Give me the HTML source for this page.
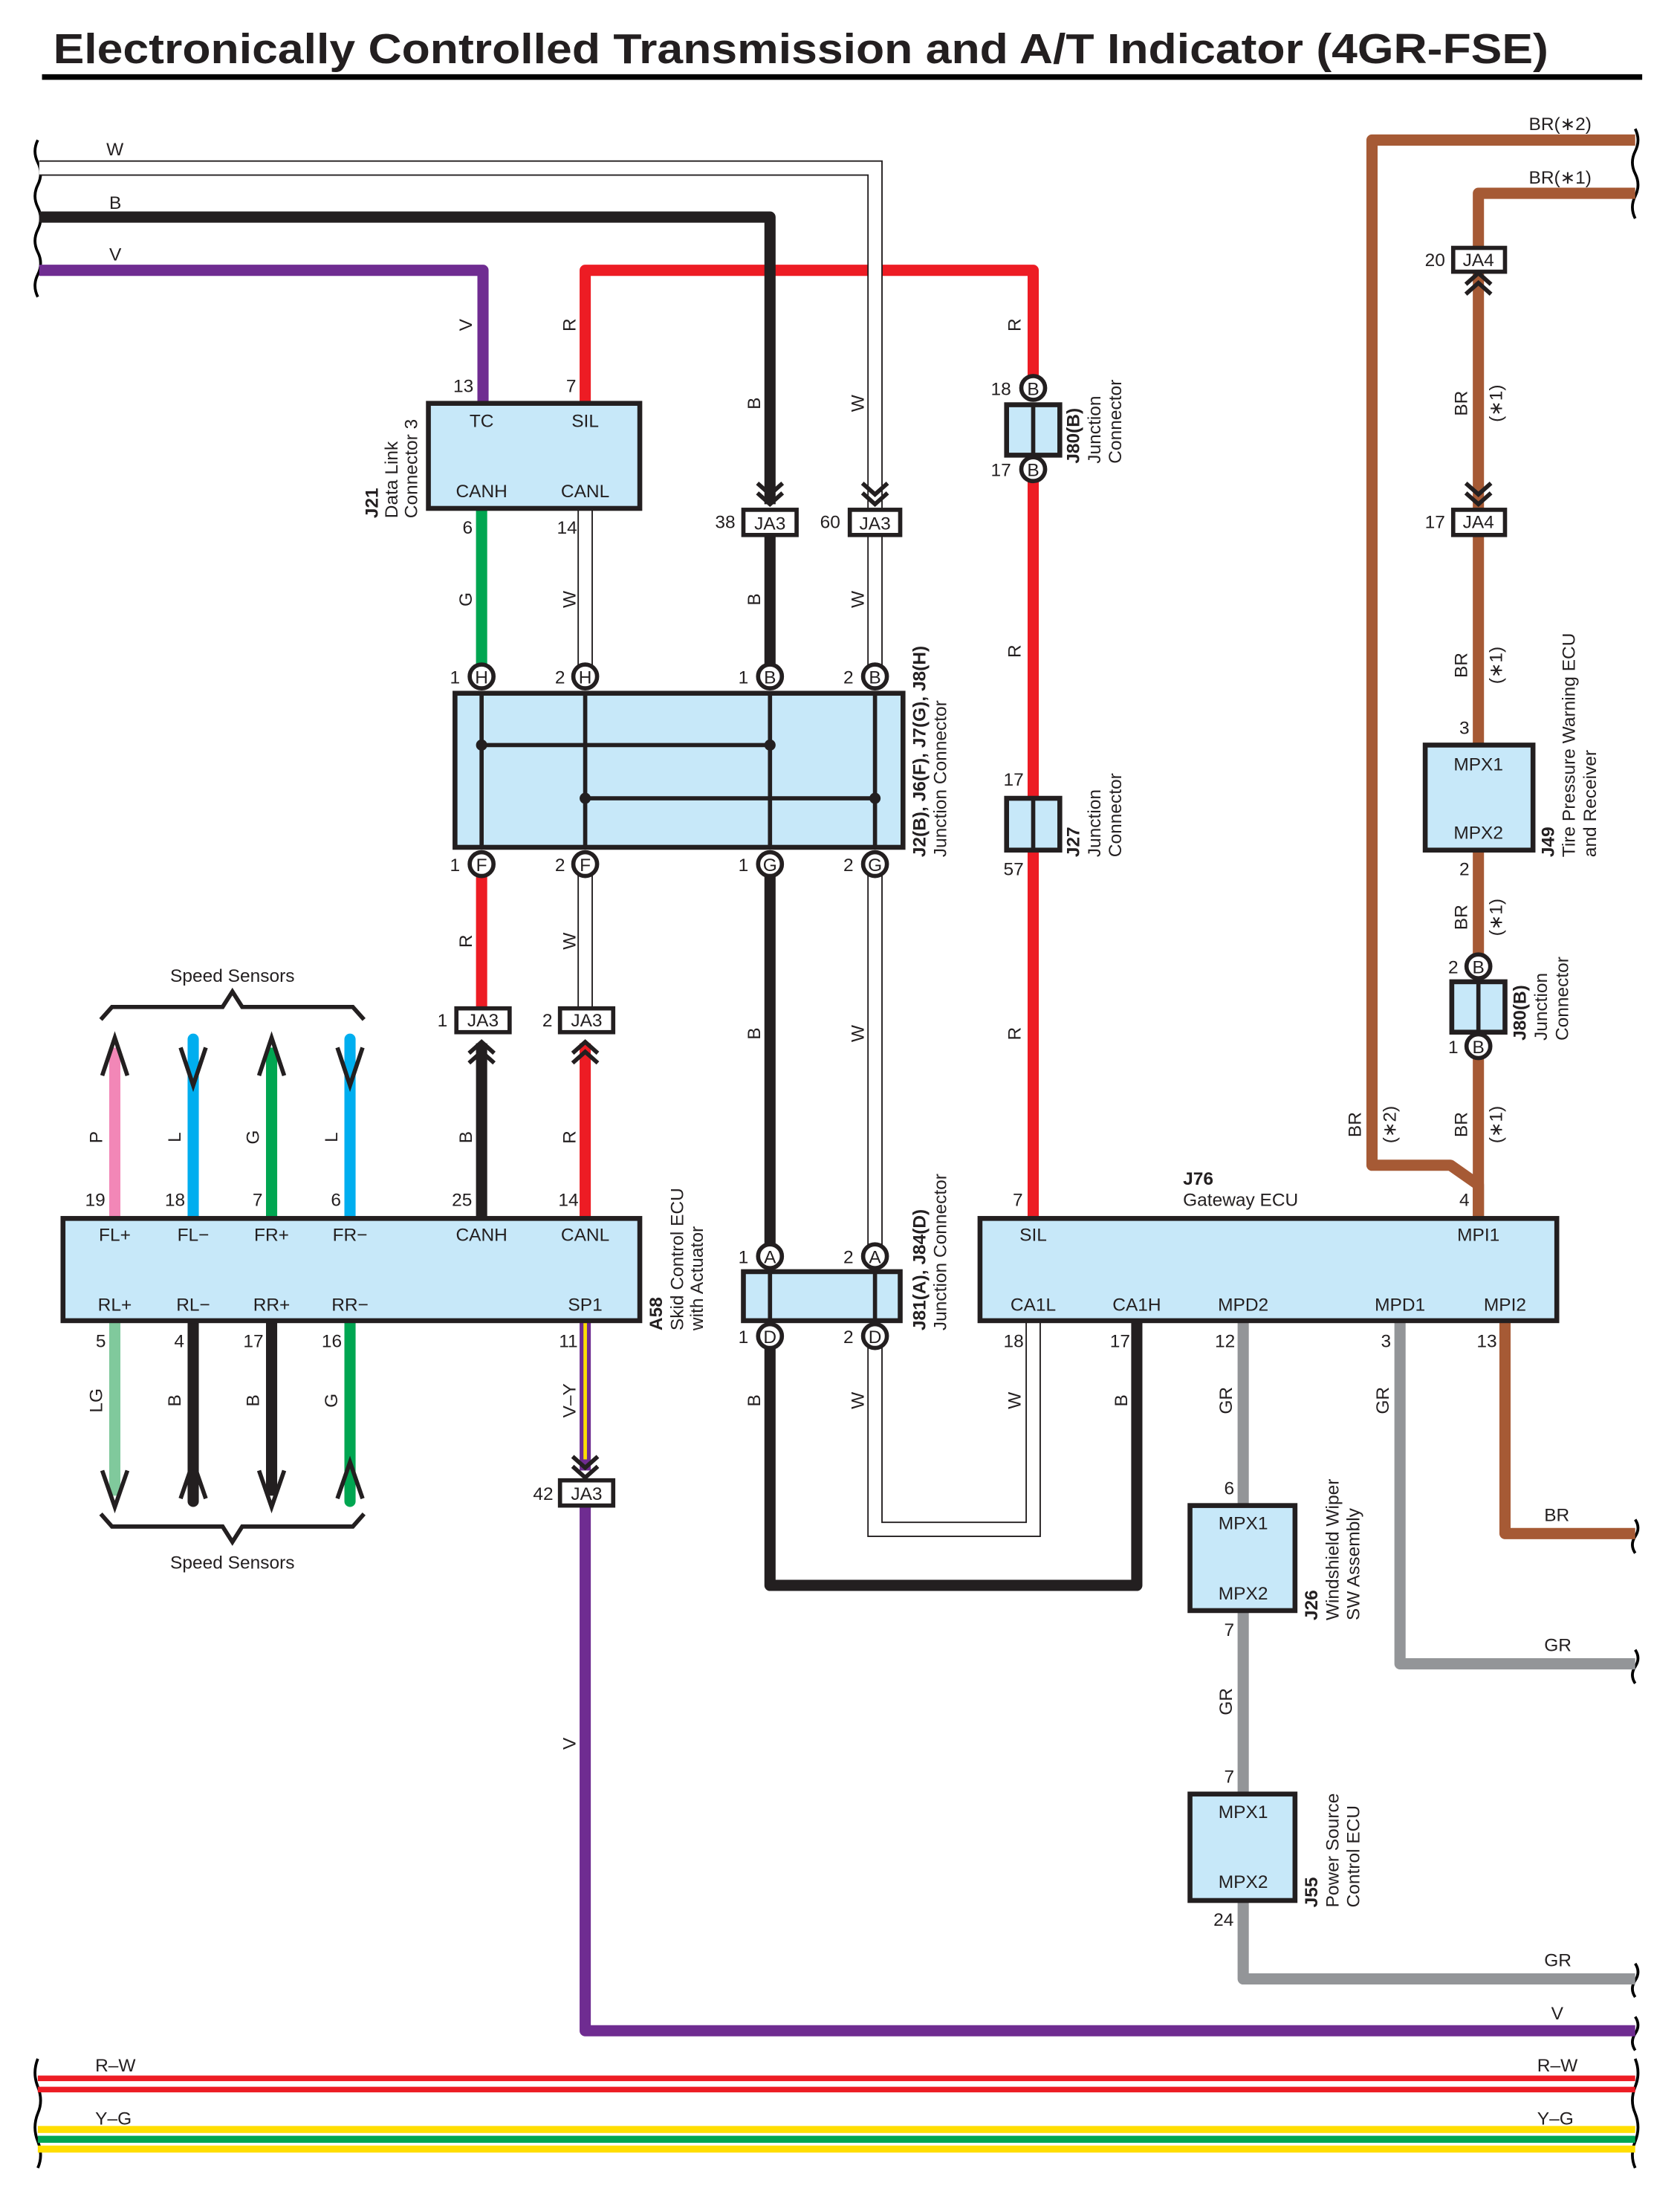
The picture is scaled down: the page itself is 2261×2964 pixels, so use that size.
<!DOCTYPE html>
<html><head><meta charset="utf-8"><style>
html,body{margin:0;padding:0;background:#fff}
svg{display:block}
text{font-family:"Liberation Sans",sans-serif;font-size:13px;fill:#231f20}
.c{text-anchor:middle}
.b{font-weight:bold}
</style></head><body>
<svg width="2261" height="2964" viewBox="0 0 1200 1573" preserveAspectRatio="none" xmlns="http://www.w3.org/2000/svg">
<rect width="1200" height="1573" fill="#fff"/>
<text x="38" y="45" class="b" style="font-size:30px" textLength="1068" lengthAdjust="spacingAndGlyphs">Electronically Controlled Transmission and A/T Indicator (4GR-FSE)</text>
<rect x="30" y="53" width="1143" height="4" fill="#000"/>

<!-- wavy breaks -->
<g fill="none" stroke="#000" stroke-width="2">
<path d="M27 100 q-4 8 0 16 q4 8 0 16 q-4 8 0 16 q4 8 0 16 q-4 8 0 16 q4 8 0 16 q-4 8 0 16"/>
<path d="M27 1470 q-4 10 0 20 q4 10 0 19 M27 1509 q-4 10 0 20 q4 10 0 19"/>
<path d="M1168 92 q4 8 0 16 q-4 8 0 16 q4 8 0 16 q-4 8 0 16"/>
<path d="M1168 1085 q4 6 0 12 q-4 6 0 12"/>
<path d="M1168 1178 q4 6 0 12 q-4 6 0 12"/>
<path d="M1168 1402 q4 6 0 12 q-4 6 0 12"/>
<path d="M1168 1440 q4 6 0 12 q-4 6 0 12"/>
<path d="M1168 1470 q4 10 0 20 q-4 10 0 19 M1168 1509 q4 10 0 20 q-4 10 0 19"/>
</g>

<!-- red first so others cross over -->
<g fill="none" stroke-width="8" stroke-linejoin="round">
<path d="M418 288 V193 H738 V277" stroke="#ed1c24"/>
</g>
<!-- white wires -->
<g fill="none" stroke-linejoin="miter">
<path d="M28 120 H625 V483 M625 617 V897 M625 954 V1092 H738 V943 M418 363 V483 M418 617 V720" stroke="#231f20" stroke-width="11"/>
<path d="M28 120 H625 V483 M625 617 V897 M625 954 V1092 H738 V943 M418 363 V483 M418 617 V720" stroke="#fff" stroke-width="9"/>
</g>
<!-- colored wires -->
<g fill="none" stroke-width="8" stroke-linejoin="round">
<path d="M28 155 H550 V360" stroke="#231f20"/>
<path d="M28 193 H345 V288" stroke="#6f2c91"/>
<path d="M738 335 V870" stroke="#ed1c24"/>
<path d="M344 363 V483" stroke="#00a651"/>
<path d="M550 382 V483" stroke="#231f20"/>
<path d="M550 617 V897" stroke="#231f20"/>
<path d="M550 954 V1132 H812 V943" stroke="#231f20"/>
<path d="M344 617 V720" stroke="#ed1c24"/>
<path d="M344 745 V870" stroke="#231f20"/>
<path d="M418 745 V870" stroke="#ed1c24"/>
<path d="M418 943 V1050" stroke="#6f2c91"/>
<path d="M418 1075 V1450 H1168" stroke="#6f2c91"/>
<path d="M888 943 V1075 M888 1150 V1280 M888 1357 V1413 H1168 M1000 943 V1188 H1168" stroke="#939598"/>
<path d="M1075 943 V1095 H1168" stroke="#a65a35"/>
<path d="M1168 100 H980 V832 H1036 L1056 846 V870" stroke="#a65a35"/>
<path d="M1168 138 H1056 V177 M1056 195 V364 M1056 382 V532 M1056 607 V690 M1056 747 V870" stroke="#a65a35"/>
</g>
<line x1="418" y1="943" x2="418" y2="1042" stroke="#ffde00" stroke-width="2.5"/>

<!-- speed sensor wires -->
<g stroke-width="8" stroke-linecap="round" fill="none">
<line x1="82" y1="870" x2="82" y2="748" stroke="#f287b7" stroke-linecap="butt"/>
<line x1="138" y1="870" x2="138" y2="742" stroke="#00aeef"/>
<line x1="194" y1="870" x2="194" y2="748" stroke="#00a651" stroke-linecap="butt"/>
<line x1="250" y1="870" x2="250" y2="742" stroke="#00aeef"/>
<line x1="82" y1="943" x2="82" y2="1068" stroke="#80c99c" stroke-linecap="butt"/>
<line x1="138" y1="943" x2="138" y2="1072" stroke="#231f20"/>
<line x1="194" y1="943" x2="194" y2="1068" stroke="#231f20" stroke-linecap="butt"/>
<line x1="250" y1="943" x2="250" y2="1072" stroke="#00a651"/>
</g>
<g stroke="#231f20" stroke-width="3" fill="none">
<polyline points="73,768 82,741 91,768"/>
<polyline points="129,748 138,775 147,748"/>
<polyline points="185,768 194,741 203,768"/>
<polyline points="241,748 250,775 259,748"/>
<polyline points="73,1050 82,1076 91,1050"/>
<polyline points="129,1070 138,1044 147,1070"/>
<polyline points="185,1050 194,1076 203,1050"/>
<polyline points="241,1070 250,1044 259,1070"/>
<path d="M72 728 L80 719 H159 L166 708 L173 719 H252 L260 728"/>
<path d="M72 1081 L80 1090 H159 L166 1101 L173 1090 H252 L260 1081"/>
<!-- chevrons -->
<path d="M541 345 L550 353 L559 345 M541 352 L550 360 L559 352"/>
<path d="M616 345 L625 353 L634 345 M616 352 L625 360 L634 352"/>
<path d="M335 752 L344 744 L353 752 M335 759 L344 751 L353 759"/>
<path d="M409 752 L418 744 L427 752 M409 759 L418 751 L427 759"/>
<path d="M409 1040 L418 1048 L427 1040 M409 1047 L418 1055 L427 1047"/>
<path d="M1047 203 L1056 195 L1065 203 M1047 210 L1056 202 L1065 210"/>
<path d="M1047 345 L1056 353 L1065 345 M1047 352 L1056 360 L1065 352"/>
</g>
<text x="166" y="701" class="c">Speed Sensors</text>
<text x="166" y="1120" class="c">Speed Sensors</text>

<!-- boxes -->
<g fill="#c7e8f9" stroke="#231f20" stroke-width="3.5">
<rect x="306" y="288" width="151" height="75"/>
<rect x="325" y="495" width="320" height="110"/>
<rect x="719" y="289" width="38" height="36"/>
<rect x="719" y="570" width="38" height="37"/>
<rect x="45" y="870" width="412" height="73"/>
<rect x="531" y="908" width="112" height="35"/>
<rect x="700" y="870" width="412" height="73"/>
<rect x="850" y="1075" width="75" height="75"/>
<rect x="850" y="1281" width="75" height="76"/>
<rect x="1018" y="532" width="77" height="75"/>
<rect x="1037" y="701" width="38" height="36"/>
</g>
<g stroke="#231f20" stroke-width="3" fill="none">
<line x1="738" y1="289" x2="738" y2="325"/><line x1="738" y1="570" x2="738" y2="607"/>
<line x1="1056" y1="701" x2="1056" y2="737"/>
<line x1="550" y1="908" x2="550" y2="943"/><line x1="625" y1="908" x2="625" y2="943"/>
<line x1="344" y1="495" x2="344" y2="605"/><line x1="418" y1="495" x2="418" y2="605"/>
<line x1="550" y1="495" x2="550" y2="605"/><line x1="625" y1="495" x2="625" y2="605"/>
<line x1="344" y1="532" x2="550" y2="532"/><line x1="418" y1="570" x2="625" y2="570"/>
</g>
<g fill="#231f20"><circle cx="344" cy="532" r="4"/><circle cx="550" cy="532" r="4"/><circle cx="418" cy="570" r="4"/><circle cx="625" cy="570" r="4"/></g>

<!-- JA boxes -->
<g fill="#fff" stroke="#231f20" stroke-width="3">
<rect x="531" y="364" width="38" height="18"/><rect x="607" y="364" width="36" height="18"/>
<rect x="326" y="720" width="38" height="17"/><rect x="400" y="720" width="38" height="17"/>
<rect x="400" y="1057" width="38" height="18"/>
<rect x="1038" y="177" width="37" height="17"/><rect x="1038" y="364" width="37" height="18"/>
</g>
<g class="c">
<text x="550" y="378" class="c">JA3</text><text x="625" y="378" class="c">JA3</text>
<text x="345" y="733" class="c">JA3</text><text x="419" y="733" class="c">JA3</text>
<text x="419" y="1071" class="c">JA3</text>
<text x="1056" y="190" class="c">JA4</text><text x="1056" y="377" class="c">JA4</text>
</g>

<!-- circles -->
<g fill="#fff" stroke="#231f20" stroke-width="3">
<circle cx="344" cy="483" r="8.5"/><circle cx="418" cy="483" r="8.5"/><circle cx="550" cy="483" r="8.5"/><circle cx="625" cy="483" r="8.5"/>
<circle cx="344" cy="617" r="8.5"/><circle cx="418" cy="617" r="8.5"/><circle cx="550" cy="617" r="8.5"/><circle cx="625" cy="617" r="8.5"/>
<circle cx="738" cy="277" r="8.5"/><circle cx="738" cy="335" r="8.5"/>
<circle cx="550" cy="897" r="8.5"/><circle cx="625" cy="897" r="8.5"/><circle cx="550" cy="954" r="8.5"/><circle cx="625" cy="954" r="8.5"/>
<circle cx="1056" cy="690" r="8.5"/><circle cx="1056" cy="747" r="8.5"/>
</g>
<g>
<text x="344" y="488" class="c">H</text><text x="418" y="488" class="c">H</text><text x="550" y="488" class="c">B</text><text x="625" y="488" class="c">B</text>
<text x="344" y="622" class="c">F</text><text x="418" y="622" class="c">F</text><text x="550" y="622" class="c">G</text><text x="625" y="622" class="c">G</text>
<text x="738" y="282" class="c">B</text><text x="738" y="340" class="c">B</text>
<text x="550" y="902" class="c">A</text><text x="625" y="902" class="c">A</text><text x="550" y="959" class="c">D</text><text x="625" y="959" class="c">D</text>
<text x="1056" y="695" class="c">B</text><text x="1056" y="752" class="c">B</text>
</g>

<!-- pin numbers -->
<g>
<text x="325" y="488" class="c">1</text><text x="400" y="488" class="c">2</text><text x="531" y="488" class="c">1</text><text x="606" y="488" class="c">2</text>
<text x="325" y="622" class="c">1</text><text x="400" y="622" class="c">2</text><text x="531" y="622" class="c">1</text><text x="606" y="622" class="c">2</text>
<text x="531" y="902" class="c">1</text><text x="606" y="902" class="c">2</text><text x="531" y="959" class="c">1</text><text x="606" y="959" class="c">2</text>
<text x="331" y="280" class="c">13</text><text x="408" y="280" class="c">7</text><text x="334" y="381" class="c">6</text><text x="405" y="381" class="c">14</text>
<text x="518" y="377" class="c">38</text><text x="593" y="377" class="c">60</text>
<text x="715" y="282" class="c">18</text><text x="715" y="340" class="c">17</text>
<text x="724" y="561" class="c">17</text><text x="724" y="625" class="c">57</text>
<text x="316" y="733" class="c">1</text><text x="391" y="733" class="c">2</text><text x="388" y="1071" class="c">42</text>
<text x="68" y="861" class="c">19</text><text x="125" y="861" class="c">18</text><text x="184" y="861" class="c">7</text><text x="240" y="861" class="c">6</text>
<text x="330" y="861" class="c">25</text><text x="406" y="861" class="c">14</text>
<text x="72" y="962" class="c">5</text><text x="128" y="962" class="c">4</text><text x="181" y="962" class="c">17</text><text x="237" y="962" class="c">16</text><text x="406" y="962" class="c">11</text>
<text x="727" y="861" class="c">7</text><text x="1046" y="861" class="c">4</text>
<text x="724" y="962" class="c">18</text><text x="800" y="962" class="c">17</text><text x="875" y="962" class="c">12</text><text x="990" y="962" class="c">3</text><text x="1062" y="962" class="c">13</text>
<text x="878" y="1067" class="c">6</text><text x="878" y="1168" class="c">7</text><text x="878" y="1273" class="c">7</text><text x="874" y="1375" class="c">24</text>
<text x="1025" y="190" class="c">20</text><text x="1025" y="377" class="c">17</text>
<text x="1046" y="524" class="c">3</text><text x="1046" y="625" class="c">2</text>
<text x="1038" y="695" class="c">2</text><text x="1038" y="752" class="c">1</text>
</g>

<!-- box labels -->
<g>
<text x="344" y="305" class="c">TC</text><text x="418" y="305" class="c">SIL</text>
<text x="344" y="355" class="c">CANH</text><text x="418" y="355" class="c">CANL</text>
<text x="82" y="886" class="c">FL+</text><text x="138" y="886" class="c">FL−</text><text x="194" y="886" class="c">FR+</text><text x="250" y="886" class="c">FR−</text>
<text x="344" y="886" class="c">CANH</text><text x="418" y="886" class="c">CANL</text>
<text x="82" y="936" class="c">RL+</text><text x="138" y="936" class="c">RL−</text><text x="194" y="936" class="c">RR+</text><text x="250" y="936" class="c">RR−</text><text x="418" y="936" class="c">SP1</text>
<text x="738" y="886" class="c">SIL</text><text x="1056" y="886" class="c">MPI1</text>
<text x="738" y="936" class="c">CA1L</text><text x="812" y="936" class="c">CA1H</text><text x="888" y="936" class="c">MPD2</text><text x="1000" y="936" class="c">MPD1</text><text x="1075" y="936" class="c">MPI2</text>
<text x="888" y="1092" class="c">MPX1</text><text x="888" y="1142" class="c">MPX2</text>
<text x="888" y="1298" class="c">MPX1</text><text x="888" y="1348" class="c">MPX2</text>
<text x="1056" y="550" class="c">MPX1</text><text x="1056" y="599" class="c">MPX2</text>
<text x="845" y="846" class="b">J76</text><text x="845" y="861">Gateway ECU</text>
</g>

<!-- horizontal wire labels -->
<g>
<text x="76" y="111">W</text><text x="78" y="149">B</text><text x="78" y="186">V</text>
<text x="1092" y="93">BR(∗2)</text><text x="1092" y="131">BR(∗1)</text>
<text x="1103" y="1086">BR</text><text x="1103" y="1179">GR</text><text x="1103" y="1404">GR</text><text x="1108" y="1442">V</text>
<text x="68" y="1479">R–W</text><text x="1098" y="1479">R–W</text>
<text x="68" y="1517">Y–G</text><text x="1098" y="1517">Y–G</text>
</g>

<!-- rotated wire labels -->
<g>
<text transform="translate(337,232) rotate(-90)" class="c">V</text>
<text transform="translate(411,232) rotate(-90)" class="c">R</text>
<text transform="translate(543,288) rotate(-90)" class="c">B</text>
<text transform="translate(617,288) rotate(-90)" class="c">W</text>
<text transform="translate(729,232) rotate(-90)" class="c">R</text>
<text transform="translate(337,428) rotate(-90)" class="c">G</text>
<text transform="translate(411,428) rotate(-90)" class="c">W</text>
<text transform="translate(543,428) rotate(-90)" class="c">B</text>
<text transform="translate(617,428) rotate(-90)" class="c">W</text>
<text transform="translate(729,465) rotate(-90)" class="c">R</text>
<text transform="translate(337,672) rotate(-90)" class="c">R</text>
<text transform="translate(411,672) rotate(-90)" class="c">W</text>
<text transform="translate(543,738) rotate(-90)" class="c">B</text>
<text transform="translate(617,738) rotate(-90)" class="c">W</text>
<text transform="translate(729,738) rotate(-90)" class="c">R</text>
<text transform="translate(73,812) rotate(-90)" class="c">P</text>
<text transform="translate(129,812) rotate(-90)" class="c">L</text>
<text transform="translate(185,812) rotate(-90)" class="c">G</text>
<text transform="translate(241,812) rotate(-90)" class="c">L</text>
<text transform="translate(337,812) rotate(-90)" class="c">B</text>
<text transform="translate(411,812) rotate(-90)" class="c">R</text>
<text transform="translate(73,1000) rotate(-90)" class="c">LG</text>
<text transform="translate(129,1000) rotate(-90)" class="c">B</text>
<text transform="translate(185,1000) rotate(-90)" class="c">B</text>
<text transform="translate(241,1000) rotate(-90)" class="c">G</text>
<text transform="translate(411,1000) rotate(-90)" class="c">V–Y</text>
<text transform="translate(411,1245) rotate(-90)" class="c">V</text>
<text transform="translate(543,1000) rotate(-90)" class="c">B</text>
<text transform="translate(617,1000) rotate(-90)" class="c">W</text>
<text transform="translate(729,1000) rotate(-90)" class="c">W</text>
<text transform="translate(805,1000) rotate(-90)" class="c">B</text>
<text transform="translate(880,1000) rotate(-90)" class="c">GR</text>
<text transform="translate(992,1000) rotate(-90)" class="c">GR</text>
<text transform="translate(880,1215) rotate(-90)" class="c">GR</text>
<text transform="translate(1048,288) rotate(-90)" class="c">BR</text>
<text transform="translate(1073,288) rotate(-90)" class="c">(∗1)</text>
<text transform="translate(1048,475) rotate(-90)" class="c">BR</text>
<text transform="translate(1073,475) rotate(-90)" class="c">(∗1)</text>
<text transform="translate(1048,655) rotate(-90)" class="c">BR</text>
<text transform="translate(1073,655) rotate(-90)" class="c">(∗1)</text>
<text transform="translate(1048,803) rotate(-90)" class="c">BR</text>
<text transform="translate(1073,803) rotate(-90)" class="c">(∗1)</text>
<text transform="translate(972,803) rotate(-90)" class="c">BR</text>
<text transform="translate(997,803) rotate(-90)" class="c">(∗2)</text>
</g>

<!-- rotated component labels -->
<g>
<text transform="translate(270,370) rotate(-90)" class="b">J21</text>
<text transform="translate(284,370) rotate(-90)">Data Link</text>
<text transform="translate(298,370) rotate(-90)">Connector 3</text>
<text transform="translate(661,612) rotate(-90)" class="b">J2(B), J6(F), J7(G), J8(H)</text>
<text transform="translate(676,612) rotate(-90)">Junction Connector</text>
<text transform="translate(771,331) rotate(-90)" class="b">J80(B)</text>
<text transform="translate(786,331) rotate(-90)">Junction</text>
<text transform="translate(801,331) rotate(-90)">Connector</text>
<text transform="translate(771,612) rotate(-90)" class="b">J27</text>
<text transform="translate(786,612) rotate(-90)">Junction</text>
<text transform="translate(801,612) rotate(-90)">Connector</text>
<text transform="translate(473,950) rotate(-90)" class="b">A58</text>
<text transform="translate(488,950) rotate(-90)">Skid Control ECU</text>
<text transform="translate(502,950) rotate(-90)">with Actuator</text>
<text transform="translate(661,950) rotate(-90)" class="b">J81(A), J84(D)</text>
<text transform="translate(676,950) rotate(-90)">Junction Connector</text>
<text transform="translate(941,1157) rotate(-90)" class="b">J26</text>
<text transform="translate(956,1157) rotate(-90)">Windshield Wiper</text>
<text transform="translate(971,1157) rotate(-90)">SW Assembly</text>
<text transform="translate(941,1362) rotate(-90)" class="b">J55</text>
<text transform="translate(956,1362) rotate(-90)">Power Source</text>
<text transform="translate(971,1362) rotate(-90)">Control ECU</text>
<text transform="translate(1110,612) rotate(-90)" class="b">J49</text>
<text transform="translate(1125,612) rotate(-90)">Tire Pressure Warning ECU</text>
<text transform="translate(1140,612) rotate(-90)">and Receiver</text>
<text transform="translate(1090,743) rotate(-90)" class="b">J80(B)</text>
<text transform="translate(1105,743) rotate(-90)">Junction</text>
<text transform="translate(1120,743) rotate(-90)">Connector</text>
</g>

<!-- bottom buses -->
<rect x="27" y="1482" width="1141" height="4" fill="#ed1c24"/>
<rect x="27" y="1490" width="1141" height="4" fill="#ed1c24"/>
<rect x="27" y="1518" width="1141" height="5" fill="#ffde00"/>
<rect x="27" y="1525" width="1141" height="5" fill="#00a651"/>
<rect x="27" y="1532" width="1141" height="5" fill="#ffde00"/>
</svg>
</body></html>
